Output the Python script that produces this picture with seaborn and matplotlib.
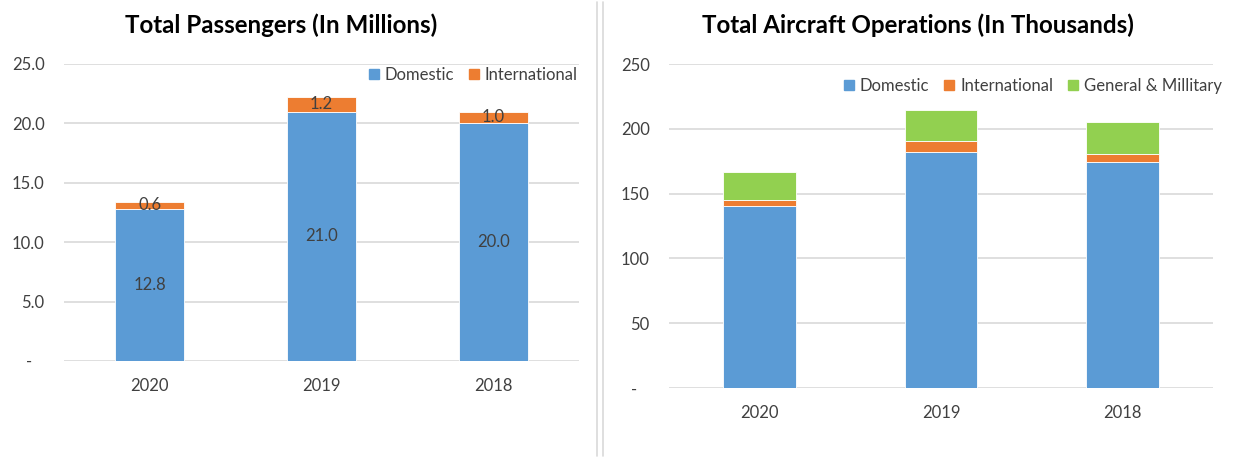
import numpy as np
import pandas as pd
import matplotlib.pyplot as plt
import seaborn as sns
from matplotlib.patches import Patch
from matplotlib.lines import Line2D

years = ['2020', '2019', '2018']

pax_domestic      = [12.8, 21.0, 20.0]
pax_international = [0.6, 1.2, 1.0]

ops_domestic      = [140.5, 182.0, 174.3]
ops_international = [4.6, 8.7, 6.6]
ops_general_mil   = [21.7, 23.7, 24.0]

BLUE, ORANGE, GREEN = '#5B9BD5', '#ED7D31', '#92D050'
GRID = '#D9D9D9'
TXT = '#404040'
FS = 12

sns.set_theme(style='white')
plt.rcParams['font.family'] = ['Lato', 'DejaVu Sans']

fig = plt.figure(figsize=(12.33, 4.58), dpi=100)
ax1 = fig.add_axes([0.0519, 0.2118, 0.4177, 0.6485])
ax2 = fig.add_axes([0.5426, 0.1528, 0.4412, 0.7074])


def stacked(ax, layers, colors):
    bottom = np.zeros(len(years))
    for vals, col in zip(layers, colors):
        df = pd.DataFrame({'year': years, 'value': vals})
        sns.barplot(data=df, x='year', y='value', color=col, width=0.4,
                    bottom=bottom.copy(), saturation=1, ax=ax,
                    edgecolor='white', linewidth=0.6)
        bottom = bottom + np.array(vals)


def style(ax, ymax, step, fmt):
    ax.set_ylim(0, ymax)
    ax.set_xlim(-0.5, 2.5)
    ticks = np.arange(0, ymax + step / 2, step)
    ax.set_yticks(ticks)
    ax.set_yticklabels(['-   ' if t == 0 else fmt.format(t) for t in ticks],
                       fontsize=FS, color=TXT)
    ax.tick_params(axis='y', length=0, pad=14)
    ax.tick_params(axis='x', length=0, pad=12, labelsize=FS, labelcolor=TXT)
    ax.set_xlabel('')
    ax.set_ylabel('')
    ax.yaxis.grid(True, color=GRID, linewidth=1.2)
    ax.set_axisbelow(True)
    for s in ax.spines.values():
        s.set_visible(False)


def legend(ax, handles, anchor):
    ax.legend(handles=handles, loc='center right', bbox_to_anchor=anchor,
              ncol=len(handles), frameon=False, fontsize=FS,
              handlelength=0.6, handleheight=0.6, handletextpad=0.35,
              columnspacing=0.9, labelcolor=TXT, borderaxespad=0,
              borderpad=0)


# Left: passengers
stacked(ax1, [pax_domestic, pax_international], [BLUE, ORANGE])
style(ax1, 25, 5, '{:.1f}')
for i in range(len(years)):
    ax1.text(i, pax_domestic[i] / 2, f'{pax_domestic[i]:.1f}', ha='center',
             va='center', fontsize=FS, color=TXT)
    ax1.text(i, pax_domestic[i] + pax_international[i] / 2,
             f'{pax_international[i]:.1f}', ha='center', va='center',
             fontsize=FS, color=TXT)
ax1.text(0.422, 1.131, 'Total Passengers (In Millions)', transform=ax1.transAxes,
         ha='center', va='center', fontsize=17.4, fontweight='bold',
         color='black')
legend(ax1, [Patch(color=BLUE, label='Domestic'),
             Patch(color=ORANGE, label='International')], (0.998, 0.963))

# Right: aircraft operations
stacked(ax2, [ops_domestic, ops_international, ops_general_mil],
        [BLUE, ORANGE, GREEN])
style(ax2, 250, 50, '{:.0f}')
ax2.text(0.457, 1.120, 'Total Aircraft Operations (In Thousands)',
         transform=ax2.transAxes, ha='center', va='center', fontsize=17.4,
         fontweight='bold', color='black')
legend(ax2, [Patch(color=BLUE, label='Domestic'),
             Patch(color=ORANGE, label='International'),
             Patch(color=GREEN, label='General & Millitary')], (1.0165, 0.932))

# separators between the two chart panels
for xf in (597 / 1233, 603 / 1233):
    fig.add_artist(Line2D([xf, xf], [0.005, 0.995], transform=fig.transFigure,
                          color=GRID, linewidth=1.2))

fig.savefig('out.png', dpi=100)
